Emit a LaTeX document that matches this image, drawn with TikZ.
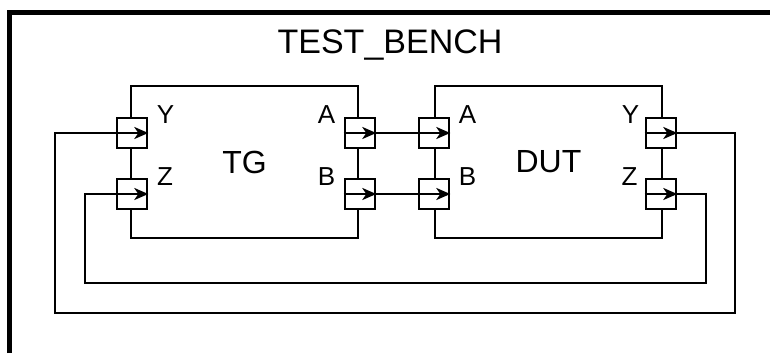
\documentclass[tikz,border=0pt]{standalone}
\usepackage{fontspec}
\setmainfont{Liberation Sans}
\usepackage{tikz}
\usetikzlibrary{
  arrows.meta,
  positioning
}
\tikzset{
  block/.style={draw, line width=1.3pt, minimum width=113.5pt, minimum height=76pt,
    inner sep=0pt, font=\fontsize{16}{19}\selectfont},
  port/.style={draw, fill=white, line width=1.3pt, minimum width=15pt,
    minimum height=15pt, inner sep=0pt},
  portlabel/.style={font=\fontsize{13}{15}\selectfont, inner sep=0pt},
  wire/.style={line width=1.3pt},
  portarrow/.style={line width=1.2pt, -{Stealth[length=7pt,width=6pt,inset=2pt]}}
}

\begin{document}
\begin{tikzpicture}[x=0.5pt, y=-0.5pt]
            \useasboundingbox (0,0) rectangle (770,353);

            % Test bench frame (runs off the page)
            \draw[line width=2.5pt] (9,353) -- (9,12.5) -- (770,12.5);
            \node[font=\fontsize{17}{20}\selectfont] (title) at (390,45) {TEST\_BENCH};

            % TG and DUT blocks
            \node[block] (tg) at (244.5,162) {TG};
            \node[block] (dut) at (548.5,162) {DUT};

            % Ports
            \node[port] (tgY) at (132,133) {};
            \node[port] (tgZ) at (132,194) {};
            \node[port] (tgA) at (360,133) {};
            \node[port] (tgB) at (360,194) {};
            \node[port] (dutA) at (434,133) {};
            \node[port] (dutB) at (434,194) {};
            \node[port] (dutY) at (661,133) {};
            \node[port] (dutZ) at (661,194) {};

            % Port names
            \node[portlabel] (lblTgY) at (165.5,114.5) {Y};
            \node[portlabel] (lblTgZ) at (165,176.5) {Z};
            \node[portlabel] (lblTgA) at (326.5,114.5) {A};
            \node[portlabel] (lblTgB) at (326.5,176.5) {B};
            \node[portlabel] (lblDutA) at (467.5,114.5) {A};
            \node[portlabel] (lblDutB) at (467.5,176.5) {B};
            \node[portlabel] (lblDutY) at (630.5,114.5) {Y};
            \node[portlabel] (lblDutZ) at (629.5,176.5) {Z};

            % Arrows inside the ports
            \draw[portarrow] (tgY.west) -- (tgY.east);
            \draw[portarrow] (tgZ.west) -- (tgZ.east);
            \draw[portarrow] (tgA.west) -- (tgA.east);
            \draw[portarrow] (tgB.west) -- (tgB.east);
            \draw[portarrow] (dutA.west) -- (dutA.east);
            \draw[portarrow] (dutB.west) -- (dutB.east);
            \draw[portarrow] (dutY.west) -- (dutY.east);
            \draw[portarrow] (dutZ.west) -- (dutZ.east);

            % Wires
            \draw[wire] (tgA.east) -- (dutA.west);
            \draw[wire] (tgB.east) -- (dutB.west);
            \draw[wire] (dutY.east) -| (735,313) -| (55,133) -- (tgY.west);
            \draw[wire] (dutZ.east) -| (706,283) -| (85,194) -- (tgZ.west);
        \end{tikzpicture}
\end{document}
